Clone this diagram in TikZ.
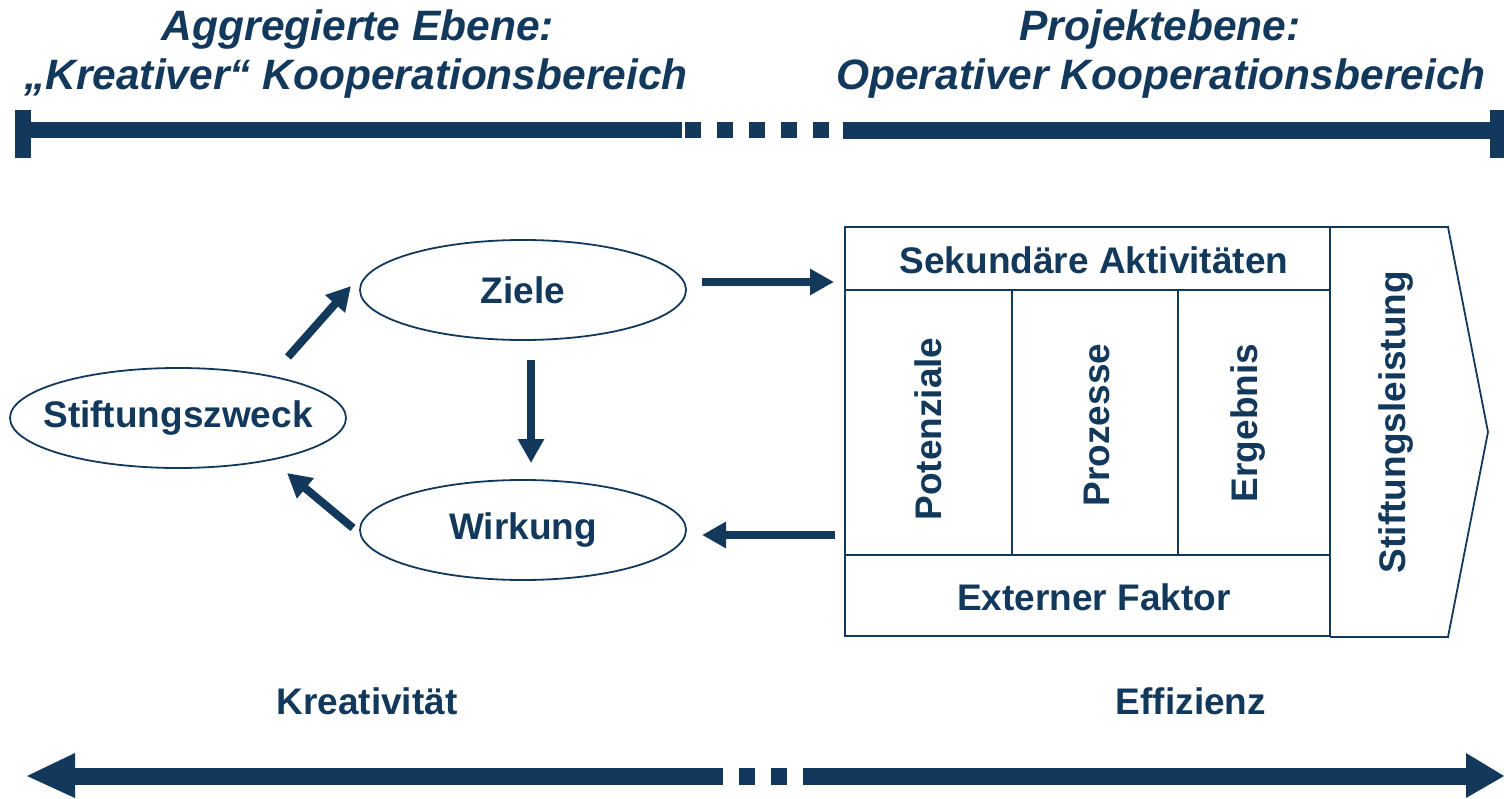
\documentclass[tikz,border=0pt]{standalone}
\usepackage{fontspec}
\setmainfont{Liberation Sans}
\usetikzlibrary{arrows.meta,shapes.geometric}
\definecolor{navy}{RGB}{18,56,92}
\tikzset{
  lbl/.style={text=navy,font=\fontsize{37}{42}\selectfont\bfseries,inner sep=0pt},
  ttl/.style={text=navy,font=\fontsize{42.5}{47}\selectfont\bfseries\itshape,inner sep=0pt},
  oval/.style={ellipse,draw=navy,line width=1.8pt,minimum width=326pt,minimum height=100pt,inner sep=0pt},
  flow/.style={draw=navy,line width=8pt,-{Triangle[length=24pt,width=25pt]}},
  boxline/.style={draw=navy,line width=1.8pt},
  barfill/.style={fill=navy},
}
\begin{document}
\begin{tikzpicture}[x=1pt,y=-1pt]
\useasboundingbox (0,0) rectangle (1504,799);
% titles
\node[ttl] (t1) at (358,30) {Aggregierte Ebene:};
\node[ttl] (t2) at (356,79) {„Kreativer“ Kooperationsbereich};
\node[ttl] (t3) at (1160,30) {Projektebene:};
\node[ttl] (t4) at (1161,79) {Operativer Kooperationsbereich};
% top bar
\fill[barfill] (15,110) rectangle (31,158);
\fill[barfill] (31,122) rectangle (682,138);
\foreach \x in {685,717,749,781,813} {\fill[barfill] (\x,122) rectangle ++(16,16);}
\fill[barfill] (843,122) rectangle (1490,139);
\fill[barfill] (1490,110) rectangle (1504,158);
% ellipses
\node[oval] (ziele) at (523,290) {};
\node[oval] (wirkung) at (523,530) {};
\node[oval,minimum width=336pt] (stift) at (178,418) {};
\node[lbl] at (ziele) {Ziele};
\node[lbl] at (wirkung) {Wirkung};
\node[lbl] at (stift) {Stiftungszweck};
% box
\coordinate (bTL) at (845,227);
\coordinate (bBR) at (1330,636);
\draw[boxline] (bTL) rectangle (bBR);
\draw[boxline] (845,290) -- (1330,290);
\draw[boxline] (845,555) -- (1330,555);
\draw[boxline] (1012,290) -- (1012,555);
\draw[boxline] (1178,290) -- (1178,555);
\draw[boxline] (1330,227) -- (1448,227) -- (1488,432) -- (1448,637) -- (1330,637);
\node[lbl] (sek) at (1094,260) {Sekundäre Aktivitäten};
\node[lbl] (ext) at (1094,597) {Externer Faktor};
\node[lbl,rotate=90] (pot) at (928,429) {Potenziale};
\node[lbl,rotate=90] (pro) at (1097,425) {Prozesse};
\node[lbl,rotate=90] (erg) at (1248,423) {Ergebnis};
\node[lbl,rotate=90] (sl) at (1396,422) {Stiftungsleistung};
% arrows
\coordinate (a1s) at (288,357);
\coordinate (a1e) at (351,286);
\coordinate (a2s) at (531,360);
\coordinate (a2e) at (531,463);
\coordinate (a3s) at (353,528);
\coordinate (a3e) at (287,473);
\coordinate (a4s) at (702,282);
\coordinate (a4e) at (834,282);
\coordinate (a5s) at (835,535);
\coordinate (a5e) at (702,535);
\draw[flow] (a1s) -- (a1e);
\draw[flow] (a2s) -- (a2e);
\draw[flow] (a3s) -- (a3e);
\draw[flow] (a4s) -- (a4e);
\draw[flow] (a5s) -- (a5e);
% bottom labels
\node[lbl] (kr) at (367,701) {Kreativität};
\node[lbl] (ef) at (1191,701) {Effizienz};
% bottom arrow
\fill[barfill] (27,776) -- (75,753) -- (75,798) -- cycle;
\fill[barfill] (75,768) rectangle (723,785);
\fill[barfill] (739,768) rectangle ++(16,17);
\fill[barfill] (771,768) rectangle ++(16,17);
\fill[barfill] (803,768) rectangle (1466,785);
\fill[barfill] (1466,753) -- (1504,776) -- (1466,798) -- cycle;
\end{tikzpicture}
\end{document}
